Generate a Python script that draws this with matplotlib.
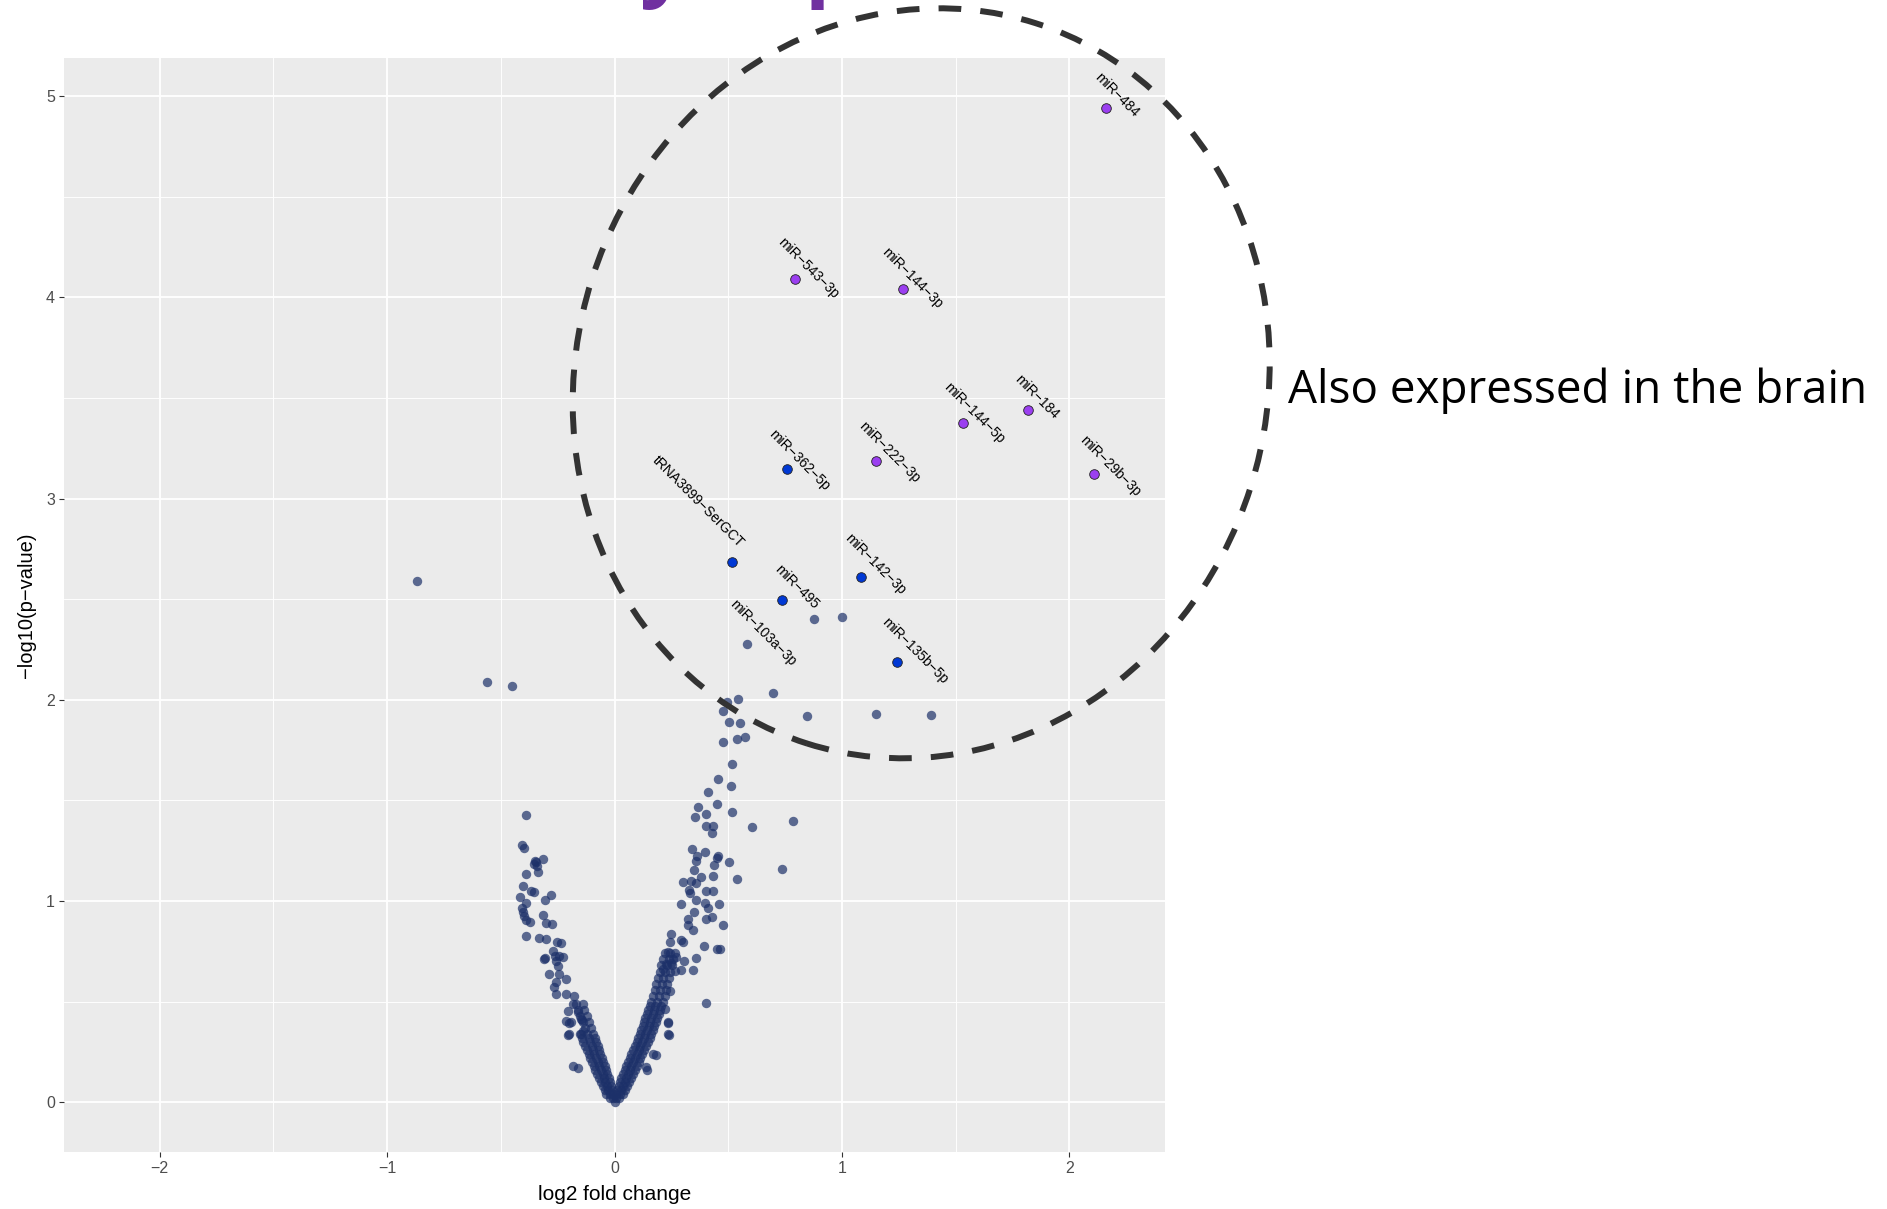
import matplotlib
matplotlib.use("Agg")
import matplotlib.pyplot as plt
from matplotlib.patches import Ellipse

plt.rcParams.update({
    "font.family": ["Liberation Sans", "DejaVu Sans"],
    "axes.unicode_minus": True,
})

# ---- data ----
# dense core of the two arms of the volcano
arm_x = [
    0.000, 0.005, 0.018, 0.008, 0.022, 0.036, 0.012, 0.030, 0.046, 0.018, 0.036, 0.056,
    0.024, 0.044, 0.064, 0.030, 0.050, 0.072, 0.036, 0.058, 0.080, 0.044, 0.066, 0.090,
    0.050, 0.074, 0.098, 0.058, 0.082, 0.106, 0.066, 0.090, 0.114, 0.074, 0.098, 0.122,
    0.082, 0.106, 0.130, 0.090, 0.114, 0.138, 0.098, 0.122, 0.146, 0.104, 0.128, 0.154,
    0.110, 0.136, 0.160, 0.118, 0.142, 0.168, 0.124, 0.150, 0.174, 0.130, 0.156, 0.182,
    0.136, 0.162, 0.188, 0.142, 0.168, 0.194, 0.148, 0.174, 0.200, 0.154, 0.180, 0.206,
    0.160, 0.186, 0.212, 0.168, 0.194, 0.220, 0.176, 0.200, 0.226, 0.182, 0.208, 0.232,
    0.190, 0.214, 0.240, 0.198, 0.222, 0.246, 0.206, 0.230, 0.252, 0.214, 0.238, 0.258,
    0.222, 0.244, 0.264,
    -0.005, -0.018, -0.008, -0.022, -0.036, -0.012, -0.028, -0.044, -0.016, -0.034, -0.052,
    -0.020, -0.040, -0.060, -0.026, -0.046, -0.068, -0.032, -0.052, -0.076, -0.038, -0.060,
    -0.084, -0.044, -0.066, -0.092, -0.050, -0.074, -0.100, -0.056, -0.080, -0.108, -0.062,
    -0.088, -0.114, -0.068, -0.094, -0.122, -0.074, -0.100, -0.130, -0.080, -0.108, -0.138,
    -0.086, -0.114, -0.144, -0.094, -0.120, -0.150, -0.104, -0.130, -0.112, -0.140, -0.122,
    -0.150, -0.132, -0.160, -0.140, -0.170,
]
arm_y = [
    0.00, 0.02, 0.02, 0.04, 0.04, 0.04, 0.06, 0.06, 0.06, 0.08, 0.08, 0.08,
    0.10, 0.10, 0.10, 0.12, 0.12, 0.12, 0.14, 0.14, 0.14, 0.16, 0.16, 0.16,
    0.18, 0.18, 0.18, 0.20, 0.20, 0.20, 0.22, 0.22, 0.22, 0.24, 0.24, 0.24,
    0.26, 0.26, 0.26, 0.28, 0.28, 0.28, 0.30, 0.30, 0.30, 0.32, 0.32, 0.32,
    0.34, 0.34, 0.34, 0.36, 0.36, 0.36, 0.38, 0.38, 0.38, 0.40, 0.40, 0.40,
    0.42, 0.42, 0.42, 0.44, 0.44, 0.44, 0.46, 0.46, 0.46, 0.48, 0.48, 0.48,
    0.50, 0.50, 0.50, 0.53, 0.53, 0.53, 0.56, 0.56, 0.56, 0.59, 0.59, 0.59,
    0.62, 0.62, 0.62, 0.65, 0.65, 0.65, 0.68, 0.68, 0.68, 0.71, 0.71, 0.71,
    0.74, 0.74, 0.74,
    0.02, 0.02, 0.04, 0.04, 0.04, 0.06, 0.06, 0.06, 0.08, 0.08, 0.08,
    0.10, 0.10, 0.10, 0.12, 0.12, 0.12, 0.14, 0.14, 0.14, 0.16, 0.16,
    0.16, 0.18, 0.18, 0.18, 0.20, 0.20, 0.20, 0.22, 0.22, 0.22, 0.24,
    0.24, 0.24, 0.26, 0.26, 0.26, 0.28, 0.28, 0.28, 0.30, 0.30, 0.30,
    0.32, 0.32, 0.32, 0.34, 0.34, 0.34, 0.37, 0.37, 0.40, 0.40, 0.43,
    0.43, 0.46, 0.46, 0.49, 0.49,
]

# scattered (unlabelled) features
pts_x = [
    0.876, 1.001, 0.696, 0.544, 0.495, 0.478, 0.846, 1.150, 1.392, 0.504, 0.551, 0.573,
    0.540, 0.478, 0.515, 0.456, 0.510, 0.412, 0.451, 0.369, 0.404, 0.515, 0.353, 0.400,
    0.432, 0.428, 0.606, 0.783, 0.737, 0.537, 0.340, 0.396, 0.363, 0.357, 0.456, 0.449,
    0.437, 0.504, 0.348, 0.382, 0.431, 0.301, 0.338, 0.360, 0.328, 0.334, 0.402, 0.434,
    0.360, 0.397, 0.460, 0.292, 0.412, 0.348, 0.323, 0.402, 0.427, 0.478, 0.323, 0.343,
    0.250, 0.243, 0.294, 0.301, 0.393, 0.451, 0.463, 0.235, 0.272, 0.304, 0.357, 0.228,
    0.250, 0.213, 0.294, 0.345, 0.400, 0.235, 0.240, 0.143, 0.184, 0.265, 0.246, 0.235,
    0.235, 0.221, 0.169, 0.140,
    -0.868, -0.562, -0.449, -0.390, -0.407, -0.396, -0.345, -0.353, -0.313, -0.338, -0.390,
    -0.404, -0.368, -0.352, -0.278, -0.416, -0.307, -0.390, -0.407, -0.404, -0.397, -0.387,
    -0.371, -0.313, -0.299, -0.275, -0.387, -0.334, -0.299, -0.255, -0.235, -0.272, -0.304,
    -0.260, -0.225, -0.309, -0.243, -0.257, -0.250, -0.287, -0.243, -0.213, -0.257, -0.265,
    -0.257, -0.213, -0.176, -0.184, -0.206, -0.162, -0.147, -0.213, -0.191, -0.198, -0.147,
    -0.140, -0.184, -0.162, -0.206, -0.143, -0.199, -0.348, -0.340,
]
pts_y = [
    2.403, 2.412, 2.032, 2.004, 1.991, 1.946, 1.918, 1.929, 1.924, 1.892, 1.885, 1.814,
    1.806, 1.792, 1.680, 1.607, 1.574, 1.541, 1.481, 1.468, 1.435, 1.445, 1.418, 1.372,
    1.375, 1.336, 1.369, 1.399, 1.159, 1.109, 1.260, 1.243, 1.226, 1.200, 1.226, 1.213,
    1.177, 1.193, 1.155, 1.122, 1.127, 1.094, 1.102, 1.089, 1.056, 1.039, 1.051, 1.048,
    1.006, 0.990, 0.985, 0.985, 0.965, 0.948, 0.912, 0.912, 0.919, 0.882, 0.882, 0.858,
    0.836, 0.799, 0.808, 0.796, 0.775, 0.763, 0.763, 0.746, 0.720, 0.704, 0.717, 0.687,
    0.692, 0.664, 0.659, 0.659, 0.495, 0.394, 0.336, 0.162, 0.233, 0.654, 0.555, 0.397,
    0.339, 0.464, 0.240, 0.174,
    2.590, 2.088, 2.068, 1.429, 1.280, 1.266, 1.193, 1.183, 1.210, 1.147, 1.137,
    1.074, 1.048, 1.044, 1.031, 1.021, 1.004, 0.988, 0.968, 0.945, 0.924, 0.907,
    0.894, 0.932, 0.889, 0.885, 0.826, 0.816, 0.813, 0.796, 0.791, 0.750, 0.717,
    0.725, 0.720, 0.712, 0.728, 0.704, 0.679, 0.637, 0.637, 0.613, 0.596, 0.571,
    0.538, 0.538, 0.530, 0.488, 0.455, 0.447, 0.414, 0.406, 0.397, 0.339, 0.339,
    0.356, 0.182, 0.171, 0.333, 0.411, 0.394, 1.200, 1.175,
]

# labelled features
lab_names = ["miR−484", "miR−543−3p", "miR−144−3p", "miR−144−5p", "miR−184", "miR−29b−3p",
             "miR−222−3p", "miR−362−5p", "tRNA3899−SerGCT", "miR−142−3p", "miR−495",
             "miR−103a−3p", "miR−135b−5p"]
lab_x = [2.161, 0.794, 1.270, 1.532, 1.817, 2.110, 1.150, 0.759, 0.516, 1.082, 0.737, 0.581, 1.240]
lab_y = [4.942, 4.093, 4.042, 3.378, 3.439, 3.122, 3.185, 3.145, 2.685, 2.609, 2.497, 2.279, 2.190]
lab_group = ["brain", "brain", "brain", "brain", "brain", "brain", "brain",
             "other", "other", "other", "other", "ns", "other"]

NAVY = "#1C3069"
PURPLE = "#9B3FF0"
BLUE = "#0038D4"
group_color = {"brain": PURPLE, "other": BLUE}

# label offsets from their point (points, x right / y up), as placed in the original
label_offsets = [(7.8, 9.5), (9.5, 7.8), (6.5, 7.8), (7.8, 6.9), (6.5, 9.5), (11.0, 5.5),
                 (9.5, 6.9), (8.7, 6.9), (-24.2, 43.3), (10.4, 9.5), (10.4, 9.5),
                 (12.0, 7.8), (13.0, 7.8)]

fig = plt.figure(figsize=(18.87, 12.09), dpi=100)
ax = fig.add_axes([0.03392, 0.04715, 0.58347, 0.90488])
ax.set_facecolor("#EBEBEB")
for s in ax.spines.values():
    s.set_visible(False)

ax.set_xlim(-2.42, 2.42)
ax.set_ylim(-0.247, 5.19)
ax.set_xticks([-2, -1, 0, 1, 2])
ax.set_yticks([0, 1, 2, 3, 4, 5])
ax.set_xticks([-1.5, -0.5, 0.5, 1.5], minor=True)
ax.set_yticks([0.5, 1.5, 2.5, 3.5, 4.5], minor=True)
ax.grid(which="major", color="white", lw=1.3)
ax.grid(which="minor", color="white", lw=0.65)
ax.set_axisbelow(True)
ax.tick_params(which="major", length=3.5, width=0.8, color="#333333",
               labelsize=11.5, labelcolor="#4D4D4D", pad=3)
ax.tick_params(which="minor", length=0)

ax.scatter(arm_x, arm_y, s=46, color=NAVY, alpha=0.7, lw=0, zorder=2)
ax.scatter(pts_x, pts_y, s=46, color=NAVY, alpha=0.7, lw=0, zorder=2)

for name, x, y, g, off in zip(lab_names, lab_x, lab_y, lab_group, label_offsets):
    if g == "ns":
        ax.scatter([x], [y], s=46, color=NAVY, alpha=0.7, lw=0, zorder=2)
    else:
        ax.scatter([x], [y], s=48, color=group_color[g], edgecolor="#222222",
                   lw=0.6, zorder=3)
    ax.annotate(name, (x, y), xytext=off, textcoords="offset points",
                rotation=-45, rotation_mode="anchor", ha="center", va="center",
                fontsize=10, color="black", zorder=4)

ax.set_xlabel("log2 fold change", fontsize=15)
ax.set_ylabel("−log10(p−value)", fontsize=14.5)
ax.xaxis.set_label_coords(0.5, -0.0384)
ax.xaxis.label.set_va("center")
ax.yaxis.set_label_coords(-0.034, 0.5)
ax.yaxis.label.set_va("center")

# dashed ring and call-out text
ring = Ellipse((9.212, 8.257), 6.908, 7.557, angle=-17.6, transform=fig.dpi_scale_trans,
               fill=False, edgecolor="#333333", lw=4.3, linestyle=(0, (3.8, 3.2)))
fig.patches.append(ring)
fig.text(0.6826, 0.6667, "Also expressed in the brain", fontsize=33,
         family="Open Sans", color="black", va="baseline")

# slide title, cut off above the frame: only the descenders of "y" and "p" show
title_kw = dict(fontsize=60, fontweight="bold", family="Open Sans", color="#7030A0",
                va="baseline", ha="left")
renderer = fig.canvas.get_renderer()
title = fig.text(0, 0, "Mostly expressed", transform=None, **title_kw)
probe = fig.text(0, 0, "Mostl", transform=None, **title_kw)
tb = title.get_window_extent(renderer)
pb = probe.get_window_extent(renderer)
probe.remove()
H = fig.bbox.height
descent = -tb.y0
title.set_position((640 - pb.width, H - 10 + descent))

fig.savefig("out.png", dpi=100)
